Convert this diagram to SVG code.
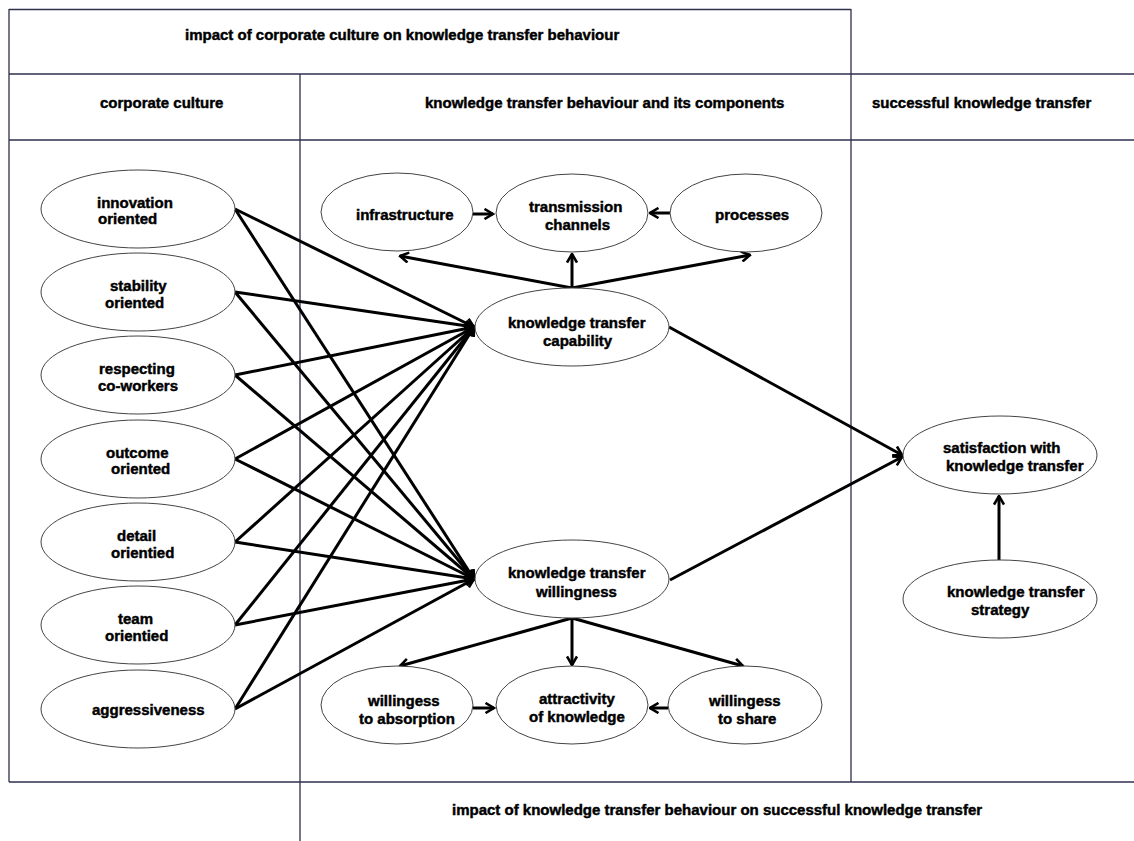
<svg xmlns="http://www.w3.org/2000/svg" width="1134" height="841" viewBox="0 0 1134 841">
<style>
.t{font-family:"Liberation Sans",Arial,sans-serif;font-weight:bold;font-size:15px;fill:#000;stroke:#000;stroke-width:0.45px}
.grid{stroke:#2f2f4f;stroke-width:1.3;fill:none}
.node ellipse{fill:#fff;stroke:#444;stroke-width:1}
.c{stroke:#000;stroke-width:3;fill:none;marker-end:url(#arr)}
</style>
<defs>
<marker id="arr" viewBox="0 0 12 12" refX="10.5" refY="6" markerWidth="12" markerHeight="12" markerUnits="userSpaceOnUse" orient="auto">
<path d="M2,1 L10.5,6 L2,11" fill="none" stroke="#000" stroke-width="2.6"/>
</marker>
</defs>
<rect width="1134" height="841" fill="#fff"/>
<g id="table">
<path class="grid" d="M9,9.5 H851 M9,9 V782 M851,9 V782 M9,74 H1134 M9,140 H1134 M300,74 V841 M9,782 H1134"/>
<text class="t" x="185" y="40">impact of corporate culture on knowledge transfer behaviour</text>
<text class="t" x="100" y="108">corporate culture</text>
<text class="t" x="425" y="108">knowledge transfer behaviour and its components</text>
<text class="t" x="872" y="108">successful knowledge transfer</text>
<text class="t" x="452" y="815">impact of knowledge transfer behaviour on successful knowledge transfer</text>
</g>
<g id="connectors">
<line class="c" x1="235" y1="209" x2="474" y2="327"/>
<line class="c" x1="235" y1="209" x2="474" y2="579"/>
<line class="c" x1="235" y1="292" x2="474" y2="327"/>
<line class="c" x1="235" y1="292" x2="474" y2="579"/>
<line class="c" x1="235" y1="375" x2="474" y2="327"/>
<line class="c" x1="235" y1="375" x2="474" y2="579"/>
<line class="c" x1="235" y1="459" x2="474" y2="327"/>
<line class="c" x1="235" y1="459" x2="474" y2="579"/>
<line class="c" x1="235" y1="542" x2="474" y2="327"/>
<line class="c" x1="235" y1="542" x2="474" y2="579"/>
<line class="c" x1="235" y1="625" x2="474" y2="327"/>
<line class="c" x1="235" y1="625" x2="474" y2="579"/>
<line class="c" x1="235" y1="709" x2="474" y2="327"/>
<line class="c" x1="235" y1="709" x2="474" y2="579"/>
<line class="c" x1="473" y1="214" x2="493" y2="214"/>
<line class="c" x1="670" y1="213" x2="650" y2="213"/>
<line class="c" x1="572" y1="288" x2="400" y2="256"/>
<line class="c" x1="572" y1="288" x2="572" y2="254"/>
<line class="c" x1="572" y1="288" x2="750" y2="255"/>
<line class="c" x1="669" y1="327" x2="902" y2="455"/>
<line class="c" x1="670" y1="580" x2="902" y2="457"/>
<line class="c" x1="999" y1="560" x2="999" y2="496"/>
<line class="c" x1="572" y1="618" x2="400" y2="666"/>
<line class="c" x1="572" y1="618" x2="572" y2="665"/>
<line class="c" x1="572" y1="618" x2="743" y2="666"/>
<line class="c" x1="473" y1="708" x2="494" y2="708"/>
<line class="c" x1="668" y1="708" x2="650" y2="708"/>
</g>
<g id="n-innovation" class="node"><ellipse cx="138" cy="209" rx="97" ry="39"/><text class="t" x="97" y="208">innovation</text><text class="t" x="98" y="224">oriented</text></g>
<g id="n-stability" class="node"><ellipse cx="138" cy="292" rx="97" ry="39"/><text class="t" x="110" y="291">stability</text><text class="t" x="105" y="308">oriented</text></g>
<g id="n-respecting" class="node"><ellipse cx="138" cy="375" rx="97" ry="39"/><text class="t" x="99" y="374">respecting</text><text class="t" x="98" y="391">co-workers</text></g>
<g id="n-outcome" class="node"><ellipse cx="138" cy="459" rx="97" ry="39"/><text class="t" x="106" y="458">outcome</text><text class="t" x="111" y="474">oriented</text></g>
<g id="n-detail" class="node"><ellipse cx="138" cy="542" rx="97" ry="39"/><text class="t" x="117" y="541">detail</text><text class="t" x="111" y="558">orientied</text></g>
<g id="n-team" class="node"><ellipse cx="138" cy="625" rx="97" ry="39"/><text class="t" x="118" y="624">team</text><text class="t" x="105" y="641">orientied</text></g>
<g id="n-aggressiveness" class="node"><ellipse cx="138" cy="709" rx="97" ry="39"/><text class="t" x="92" y="715">aggressiveness</text></g>
<g id="n-infrastructure" class="node"><ellipse cx="397" cy="212" rx="76" ry="39"/><text class="t" x="356" y="220">infrastructure</text></g>
<g id="n-transmission" class="node"><ellipse cx="572" cy="213" rx="76" ry="39"/><text class="t" x="529" y="212">transmission</text><text class="t" x="545" y="230">channels</text></g>
<g id="n-processes" class="node"><ellipse cx="746" cy="213" rx="76" ry="39"/><text class="t" x="715" y="220">processes</text></g>
<g id="n-capability" class="node"><ellipse cx="572" cy="327" rx="97" ry="39"/><text class="t" x="508" y="328">knowledge transfer</text><text class="t" x="543" y="346">capability</text></g>
<g id="n-willingness" class="node"><ellipse cx="572" cy="579" rx="97" ry="39"/><text class="t" x="508" y="578">knowledge transfer</text><text class="t" x="536" y="597">willingness</text></g>
<g id="n-absorption" class="node"><ellipse cx="397" cy="705" rx="76" ry="39"/><text class="t" x="368" y="706">willingess</text><text class="t" x="359" y="724">to absorption</text></g>
<g id="n-attractivity" class="node"><ellipse cx="572" cy="705" rx="76" ry="39"/><text class="t" x="539" y="704">attractivity</text><text class="t" x="529" y="722">of knowledge</text></g>
<g id="n-share" class="node"><ellipse cx="745" cy="705" rx="77" ry="39"/><text class="t" x="709" y="706">willingess</text><text class="t" x="718" y="724">to share</text></g>
<g id="n-satisfaction" class="node"><ellipse cx="1000" cy="455" rx="97" ry="39"/><text class="t" x="943" y="453">satisfaction with</text><text class="t" x="946" y="471">knowledge transfer</text></g>
<g id="n-strategy" class="node"><ellipse cx="1000" cy="599" rx="97" ry="39"/><text class="t" x="947" y="597">knowledge transfer</text><text class="t" x="971" y="615">strategy</text></g>
</svg>
